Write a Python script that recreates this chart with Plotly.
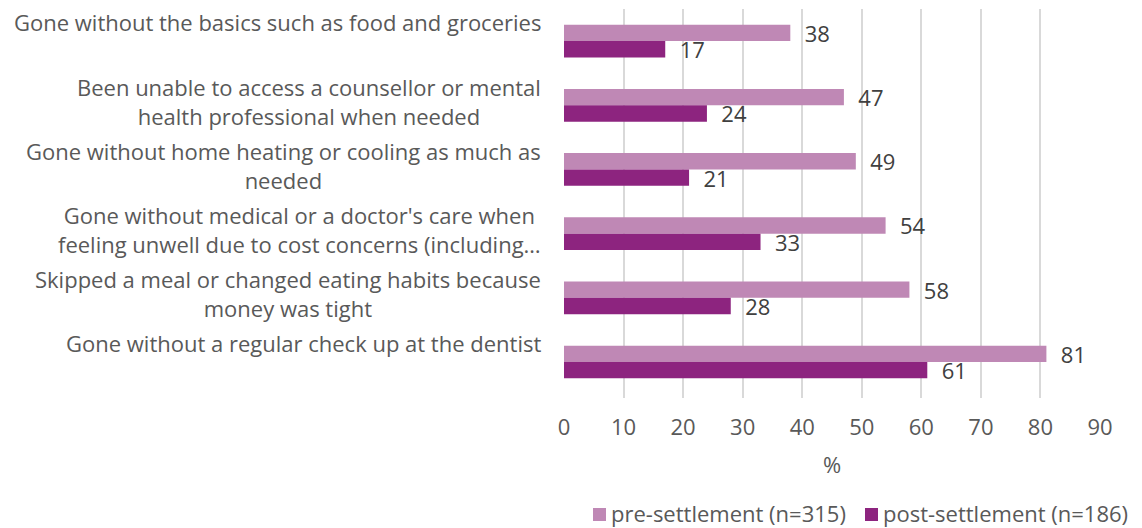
import plotly.graph_objects as go

# Survey items (line breaks as they wrap on the chart)
categories = [
    "Gone without the basics such as food and groceries",
    "Been unable to access a counsellor or mental<br>health professional when needed",
    "Gone without home heating or cooling as much as<br>needed",
    "Gone without medical or a doctor's care when<br>feeling unwell due to cost concerns (including…",
    "Skipped a meal or changed eating habits because<br>money was tight",
    "Gone without a regular check up at the dentist",
]
pre_settlement = [38, 47, 49, 54, 58, 81]
post_settlement = [17, 24, 21, 33, 28, 61]
x_ticks = [0, 10, 20, 30, 40, 50, 60, 70, 80, 90]
series_names = ["pre-settlement (n=315)", "post-settlement (n=186)"]

PRE_COLOR = "#BF88B5"
POST_COLOR = "#8D247F"
TEXT_GREY = "#595959"
FONT = "Open Sans"
FS = 22

# Figure geometry in pixels
W, H = 1142, 528
L, R, T, B = 564, 42, 9, 130
PW, PH = W - L - R, H - T - B


def px_x(x):
    return (x - L) / PW


def px_y(y):
    return (H - B - y) / PH


fig = go.Figure()
for name, vals, color in [(series_names[0], pre_settlement, PRE_COLOR),
                          (series_names[1], post_settlement, POST_COLOR)]:
    fig.add_bar(
        y=categories, x=vals, orientation="h", name=name,
        marker=dict(color=color, line=dict(width=0)),
        texttemplate="  %{x}", textposition="outside", constraintext="none",
        textfont=dict(color="#404040", size=FS, family=FONT), cliponaxis=False,
        showlegend=False,
    )

# Category labels: centred lines, block right-aligned against the plot
for cat in categories:
    n_lines = cat.count("<br>") + 1
    fig.add_annotation(
        x=0, xref="paper", y=cat, yref="y", text=cat,
        xanchor="right", yanchor="middle", align="center", showarrow=False,
        xshift=-21, yshift=4 if n_lines > 1 else 19,
        font=dict(family=FONT, size=FS, color=TEXT_GREY),
    )

# Legend row under the axis title
legend_items = [(series_names[0], PRE_COLOR, 593), (series_names[1], POST_COLOR, 865)]
for name, color, left in legend_items:
    fig.add_shape(
        type="rect", xref="paper", yref="paper",
        x0=px_x(left), x1=px_x(left + 13), y0=px_y(521), y1=px_y(508),
        fillcolor=color, line=dict(width=0),
    )
    fig.add_annotation(
        x=px_x(left + 17), y=px_y(513), xref="paper", yref="paper",
        text=name, xanchor="left", yanchor="middle", showarrow=False,
        borderpad=0, font=dict(family=FONT, size=FS, color=TEXT_GREY),
    )

fig.update_layout(
    width=W, height=H,
    margin=dict(l=L, r=R, t=T, b=B, autoexpand=False),
    barmode="group", bargap=0.49, bargroupgap=0,
    plot_bgcolor="white", paper_bgcolor="white",
    font=dict(family=FONT, size=FS, color=TEXT_GREY),
    showlegend=False,
)
fig.update_xaxes(
    range=[0, 90], tickvals=x_ticks, showgrid=True, gridcolor="#D9D9D9",
    gridwidth=1.5, zeroline=False, showline=False, ticks="",
    ticklabelstandoff=14, tickfont=dict(size=FS, color=TEXT_GREY),
    title=dict(text="%", standoff=17, font=dict(size=FS, color=TEXT_GREY)),
)
fig.update_yaxes(autorange="reversed", showticklabels=False, showgrid=False,
                 zeroline=False, ticks="")

fig.write_html("out.html")
